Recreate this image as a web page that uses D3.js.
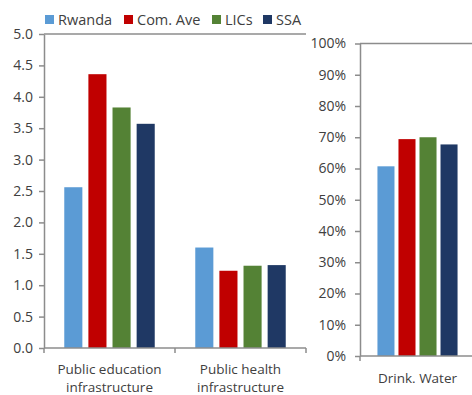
<!DOCTYPE html>
<html>
<head>
<meta charset="utf-8">
<script src="https://cdn.jsdelivr.net/npm/d3@7"></script>
<style>
  html, body { margin: 0; padding: 0; background: #fff; }
  svg text { font-family: "Open Sans", "Noto Sans", sans-serif; fill: #404040; }
</style>
</head>
<body>
<svg id="chart" width="472" height="395"></svg>
<script>
// Series and colours
const series = ["Rwanda", "Com. Ave", "LICs", "SSA"];
const colors = ["#5B9BD5", "#C00000", "#548235", "#1F3864"];

// Left panel: infrastructure indices
const infraCategories = [["Public education", "infrastructure"], ["Public health", "infrastructure"]];
const infraRwanda = [2.56, 1.60];
const infraComAve = [4.36, 1.23];
const infraLICs   = [3.83, 1.31];
const infraSSA    = [3.57, 1.32];
const infraTicks  = [0, 0.5, 1, 1.5, 2, 2.5, 3, 3.5, 4, 4.5, 5];

// Right panel: access to drinking water (share of population)
const waterCategories = ["Drink. Water"];
const waterRwanda = [0.607];
const waterComAve = [0.694];
const waterLICs   = [0.700];
const waterSSA    = [0.677];
const waterTicks  = [0, 0.1, 0.2, 0.3, 0.4, 0.5, 0.6, 0.7, 0.8, 0.9, 1.0];

const svg = d3.select("#chart");
const axisColor = "#8c8c8c";

function panel(opts) {
  const { left, right, top, bottom, cats, values, ticks, fmt, maxV, innerPad, outerPad, labelGap, tickPad } = opts;
  const g = svg.append("g");
  const x0 = d3.scaleBand().domain(d3.range(cats.length)).range([left, right]);
  const x1 = d3.scaleBand().domain(series).range([0, x0.bandwidth()])
    .paddingInner(innerPad).paddingOuter(outerPad);
  const y = d3.scaleLinear().domain([0, maxV]).range([bottom, top]);

  // bars
  cats.forEach((c, i) => {
    series.forEach((s, j) => {
      const v = values[j][i];
      g.append("rect")
        .attr("x", x0(i) + x1(s))
        .attr("y", y(v))
        .attr("width", x1.bandwidth())
        .attr("height", y(0) - y(v))
        .attr("fill", colors[j]);
    });
  });

  // y axis
  const yAxis = d3.axisLeft(y).tickValues(ticks).tickFormat(fmt).tickSizeInner(5).tickSizeOuter(0).tickPadding(tickPad);
  const ya = g.append("g").attr("transform", `translate(${left},0)`).call(yAxis);
  ya.select(".domain").attr("stroke", axisColor).attr("stroke-width", 1.5);
  ya.selectAll(".tick line").attr("stroke", axisColor).attr("stroke-width", 1.5);
  ya.selectAll(".tick text").style("font-size", "14px").attr("fill", "#404040");

  // top frame line
  g.append("line").attr("x1", left).attr("x2", right).attr("y1", top).attr("y2", top)
    .attr("stroke", axisColor).attr("stroke-width", 1.5);

  // x axis baseline with boundary ticks
  g.append("line").attr("x1", left).attr("x2", right).attr("y1", bottom).attr("y2", bottom)
    .attr("stroke", axisColor).attr("stroke-width", 1.5);
  const bounds = d3.range(cats.length + 1).map(i => i < cats.length ? x0(i) : right);
  bounds.forEach(bx => {
    g.append("line").attr("x1", bx).attr("x2", bx).attr("y1", bottom).attr("y2", bottom + 5)
      .attr("stroke", axisColor).attr("stroke-width", 1.5);
  });

  // category labels
  cats.forEach((c, i) => {
    const lines = Array.isArray(c) ? c : [c];
    const cx = x0(i) + x0.bandwidth() / 2;
    const t = g.append("text")
      .attr("x", cx)
      .attr("y", bottom + labelGap)
      .attr("text-anchor", "middle")
      .style("font-size", "13.5px");
    lines.forEach((ln, k) => {
      t.append("tspan").attr("x", cx).attr("dy", k === 0 ? 0 : 17.5).text(ln);
    });
  });
}

panel({
  left: 44, right: 306, top: 34, bottom: 348,
  cats: infraCategories,
  values: [infraRwanda, infraComAve, infraLICs, infraSSA],
  ticks: infraTicks, fmt: d3.format(".1f"), maxV: 5,
  innerPad: 0.25, outerPad: 0.84, labelGap: 26, tickPad: 6
});

panel({
  left: 360, right: 475, top: 43.5, bottom: 356,
  cats: waterCategories,
  values: [waterRwanda, waterComAve, waterLICs, waterSSA],
  ticks: waterTicks, fmt: d3.format(".0%"), maxV: 1,
  innerPad: 0.19, outerPad: 0.83, labelGap: 27, tickPad: 9
});

// legend
const legendX = [45, 124, 212, 263];
const legend = svg.append("g");
series.forEach((s, j) => {
  legend.append("rect").attr("x", legendX[j]).attr("y", 15).attr("width", 9).attr("height", 9).attr("fill", colors[j]);
  legend.append("text").attr("x", legendX[j] + 13).attr("y", 25).style("font-size", "14.5px").text(s);
});
</script>
</body>
</html>
